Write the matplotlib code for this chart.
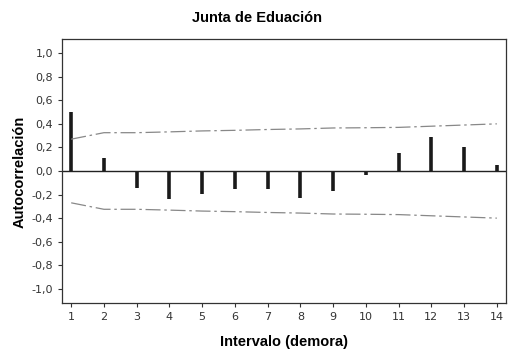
import numpy as np
import matplotlib.pyplot as plt
from matplotlib.ticker import FuncFormatter

lags = np.arange(1, 15)
acf = [0.50, 0.107, -0.147, -0.235, -0.195, -0.153, -0.155, -0.229, -0.172,
       -0.037, 0.153, 0.288, 0.20, 0.051]
conf = [0.27, 0.325, 0.325, 0.332, 0.34, 0.345, 0.352, 0.357, 0.365, 0.367,
        0.37, 0.38, 0.39, 0.40]


def comma_fmt(v, pos):
    v = round(v, 1) + 0.0
    if v == 0:
        v = 0.0
    return f'{v:.1f}'.replace('.', ',')


fig = plt.figure(figsize=(5.13, 3.5), dpi=100)
ax = fig.add_axes([0.1209, 0.1343, 0.8655, 0.7543])

ax.vlines(lags, 0, acf, color='#1a1a1a', linewidth=2.6)
ax.axhline(0, color='#222222', linewidth=1.0)
ax.plot(lags, conf, color='#888888', linewidth=0.9, linestyle=(0, (12, 3, 2, 3)))
ax.plot(lags, -np.array(conf), color='#888888', linewidth=0.9, linestyle=(0, (12, 3, 2, 3)))

ax.set_xlim(0.72, 14.28)
ax.set_ylim(-1.12, 1.12)
ax.set_xticks(lags)
ax.set_yticks(np.round(np.arange(-1.0, 1.01, 0.2), 1))
ax.yaxis.set_major_formatter(FuncFormatter(comma_fmt))
ax.tick_params(labelsize=8, colors='#333333', length=3, width=0.8)
for s in ax.spines.values():
    s.set_color('#333333')
    s.set_linewidth(0.9)

bold = dict(family='Liberation Sans', fontweight='bold', fontsize=10.5)
fig.text(0.5, 0.948, 'Junta de Eduación', ha='center', va='center', **bold)
fig.text(0.554, 0.022, 'Intervalo (demora)', ha='center', va='center', **bold)
fig.text(0.039, 0.51, 'Autocorrelación', ha='center', va='center', rotation=90, **bold)

fig.savefig('out.png', dpi=100)
